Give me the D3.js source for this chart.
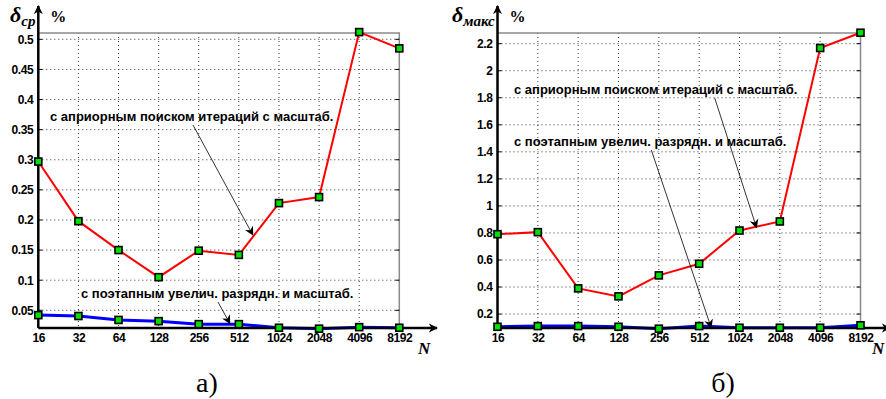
<!DOCTYPE html>
<html><head><meta charset="utf-8">
<script src="https://cdn.jsdelivr.net/npm/d3@7"></script>
<style>body{margin:0;background:#fff}svg{display:block}</style>
</head><body>
<svg id="c" width="886" height="399"></svg>
<script>
const categories = ["16","32","64","128","256","512","1024","2048","4096","8192"];
// panel a) δср
const avgApriori = [0.297,0.198,0.150,0.105,0.149,0.142,0.228,0.238,0.512,0.485];
const avgStaged  = [0.042,0.0405,0.034,0.032,0.027,0.027,0.021,0.0195,0.022,0.021];
const avgTicks   = [0.05,0.1,0.15,0.2,0.25,0.3,0.35,0.4,0.45,0.5];
// panel б) δмакс
const maxApriori = [0.791,0.806,0.390,0.331,0.486,0.572,0.818,0.885,2.168,2.281];
const maxStaged  = [0.106,0.111,0.111,0.106,0.092,0.111,0.099,0.099,0.099,0.117];
const maxTicks   = [0.2,0.4,0.6,0.8,1,1.2,1.4,1.6,1.8,2,2.2];
const labelApriori = "с априорным поиском итераций с масштаб.";
const labelStaged  = "с поэтапным увелич. разрядн. и масштаб.";

const svg = d3.select("#c");
const defs = svg.append("defs");
defs.append("marker").attr("id","ah").attr("viewBox","0 0 10 10").attr("refX",9).attr("refY",5)
  .attr("markerWidth",9).attr("markerHeight",12).attr("markerUnits","userSpaceOnUse").attr("orient","auto")
  .append("path").attr("d","M0,0 L10,5 L0,10 L3,5 Z").attr("fill","#000");

function panel(o){
  const g = svg.append("g");
  const x = d3.scalePoint().domain(categories).range([o.x0,o.x1]);
  const y = d3.scaleLinear().domain(o.yDom).range([o.yB,o.yT]);
  const L=o.x0, R=o.x1, T=o.yT, B=o.yB;
  // grid
  g.selectAll(".vg").data(categories.slice(1,-1)).join("line")
    .attr("x1",d=>x(d)).attr("x2",d=>x(d)).attr("y1",T).attr("y2",B)
    .attr("stroke","#333").attr("stroke-width",1).attr("stroke-dasharray","1,3");
  g.selectAll(".hg").data(o.ticks).join("line")
    .attr("x1",L).attr("x2",R).attr("y1",d=>y(d)).attr("y2",d=>y(d))
    .attr("stroke","#333").attr("stroke-width",1).attr("stroke-dasharray","1,3");
  // box top/right
  g.append("path").attr("d",`M${L},${T}H${R}V${B}`).attr("fill","none").attr("stroke","#8a8a8a").attr("stroke-width",1.5);
  // y tick labels
  const ya = d3.axisLeft(y).tickValues(o.ticks).tickSize(0).tickPadding(5).tickFormat(d3.format("~g"));
  const yg = g.append("g").attr("transform",`translate(${L},0)`).call(ya);
  yg.select(".domain").remove();
  yg.selectAll("text").attr("font-family","Liberation Sans, Arial").attr("font-weight","bold").attr("font-size",12)
    .attr("letter-spacing",-0.4).attr("fill","#000");
  // y tick marks inside
  g.selectAll(".yt").data(o.ticks).join("line").attr("x1",L).attr("x2",L+4).attr("y1",d=>y(d)).attr("y2",d=>y(d)).attr("stroke","#000");
  g.selectAll(".yt2").data(o.ticks).join("line").attr("x1",R).attr("x2",R-4).attr("y1",d=>y(d)).attr("y2",d=>y(d)).attr("stroke","#000");
  // x tick labels
  const xa = d3.axisBottom(x).tickSize(0).tickPadding(5);
  const xg = g.append("g").attr("transform",`translate(0,${B})`).call(xa);
  xg.select(".domain").remove();
  xg.selectAll("text").attr("font-family","Liberation Sans, Arial").attr("font-weight","bold").attr("font-size",12)
    .attr("letter-spacing",-0.4).attr("fill","#000");
  // series
  const line = d3.line().x((d,i)=>x(categories[i])).y(d=>y(d));
  g.append("path").datum(o.red).attr("d",line).attr("fill","none").attr("stroke","#ff0000").attr("stroke-width",2);
  g.append("path").datum(o.blue).attr("d",line).attr("fill","none").attr("stroke","#0000ff").attr("stroke-width",3);
  // axes with arrows
  g.append("line").attr("x1",L).attr("x2",o.xArrow).attr("y1",B).attr("y2",B).attr("stroke","#000").attr("stroke-width",2.5).attr("marker-end","url(#ah)");
  g.append("line").attr("x1",L).attr("x2",L).attr("y1",B).attr("y2",6).attr("stroke","#000").attr("stroke-width",2.5).attr("marker-end","url(#ah)");
  // markers
  [o.red,o.blue].forEach(s=>{
    g.selectAll(null).data(s).join("rect")
      .attr("x",(d,i)=>x(categories[i])-3.5).attr("y",d=>y(d)-3.5).attr("width",7).attr("height",7)
      .attr("fill","#00e000").attr("stroke","#000").attr("stroke-width",1.6);
  });
  // annotations
  o.notes.forEach(n=>{
    g.append("text").attr("x",n.tx).attr("y",n.ty).text(n.text)
      .attr("font-family","Liberation Sans, Arial").attr("font-weight","bold").attr("font-size",13).attr("fill","#000");
    g.append("line").attr("x1",n.ax).attr("y1",n.ay).attr("x2",x(categories[n.i])+n.dx).attr("y2",y(n.v))
      .attr("stroke","#000").attr("stroke-width",0.8).attr("marker-end","url(#ah)");
  });
  // y label
  const yl = g.append("text").attr("x",o.ylx).attr("y",22).attr("font-family","Liberation Serif, Times New Roman")
    .attr("font-weight","bold").attr("font-style","italic").attr("fill","#000");
  yl.append("tspan").attr("font-size",22).text("δ");
  yl.append("tspan").attr("font-size",15).attr("dy",4).text(o.sub);
  g.append("text").attr("x",L+12).attr("y",22).attr("font-family","Liberation Serif, Times New Roman")
    .attr("font-weight","bold").attr("font-size",16).attr("fill","#000").text("%");
  g.append("text").attr("x",o.nx).attr("y",354).attr("font-family","Liberation Serif, Times New Roman")
    .attr("font-weight","bold").attr("font-style","italic").attr("font-size",17).attr("fill","#000").text("N");
  g.append("text").attr("x",o.cx).attr("y",392).attr("text-anchor","middle").attr("font-family","Liberation Serif, Times New Roman")
    .attr("font-size",28).attr("fill","#000").text(o.cap);
}

panel({x0:38.3,x1:399.3,yT:33,yB:328,yDom:[0.0206,0.5105],ticks:avgTicks,red:avgApriori,blue:avgStaged,
  xArrow:437,ylx:10,sub:"ср",nx:418,cx:207,cap:"а)",
  notes:[{text:labelApriori,tx:50,ty:121,ax:193,ay:125,i:5,dx:14,v:0.175},
         {text:labelStaged,tx:81,ty:298,ax:218,ay:302,i:5,dx:-9,v:0.028}]});
panel({x0:497.5,x1:860.5,yT:33,yB:328,yDom:[0.097,2.279],ticks:maxTicks,red:maxApriori,blue:maxStaged,
  xArrow:890,ylx:452,sub:"макс",nx:872,cx:723,cap:"б)",
  notes:[{text:labelApriori,tx:514,ty:94,ax:714.7,ay:98,i:6,dx:17,v:0.84},
         {text:labelStaged,tx:514,ty:146,ax:651.3,ay:150,i:5,dx:12,v:0.10}]});
</script>
</body></html>
